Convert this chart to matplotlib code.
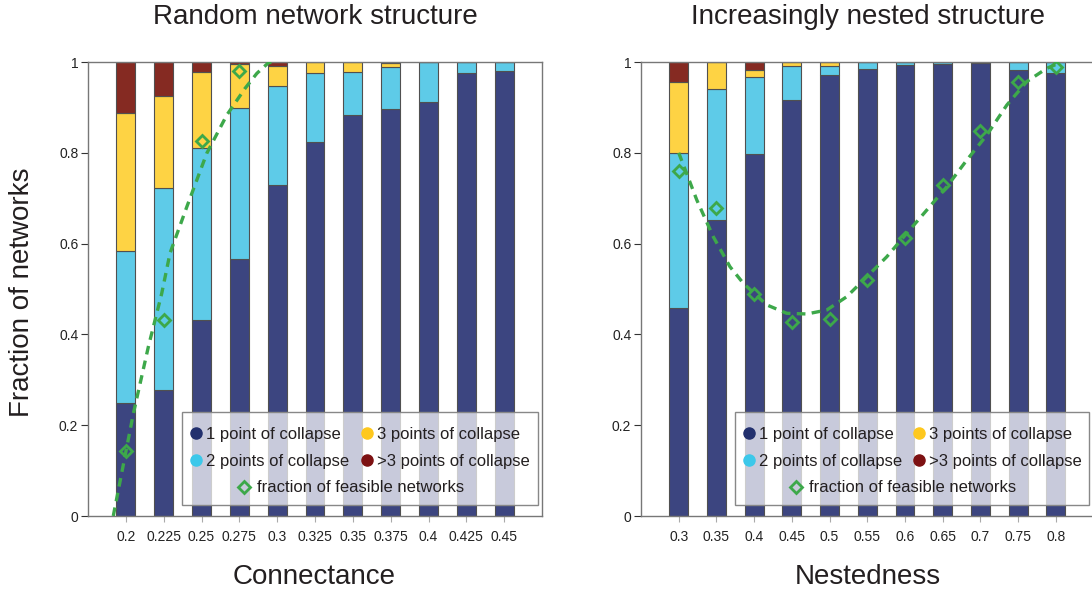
import matplotlib.pyplot as plt
from matplotlib.lines import Line2D
from matplotlib.patches import Rectangle

plt.rcParams['font.family'] = ['Liberation Sans', 'DejaVu Sans']

c_one = '#3c4580'
c_two = '#5ecbe8'
c_three = '#fed344'
c_more = '#852a22'
c_green = '#3da84a'

# random network structure
connectance = [0.2, 0.225, 0.25, 0.275, 0.3, 0.325, 0.35, 0.375, 0.4, 0.425, 0.45]
rand_one = [0.249, 0.278, 0.432, 0.567, 0.729, 0.823, 0.883, 0.896, 0.911, 0.975, 0.980]
rand_two = [0.334, 0.444, 0.378, 0.331, 0.218, 0.152, 0.096, 0.092, 0.089, 0.025, 0.020]
rand_three = [0.305, 0.203, 0.169, 0.097, 0.044, 0.025, 0.021, 0.010, 0.0, 0.0, 0.0]
rand_more = [0.112, 0.075, 0.021, 0.005, 0.009, 0.0, 0.0, 0.002, 0.0, 0.0, 0.0]
rand_feas_x = [0.2, 0.225, 0.25, 0.275]
rand_feas = [0.143, 0.432, 0.825, 0.980]
rand_fit_x = [0.1917, 0.205, 0.2149, 0.2237, 0.2292, 0.2403, 0.2535, 0.2667,
              0.2788, 0.2866, 0.2943, 0.300]
rand_fit_y = [0.0, 0.226, 0.373, 0.490, 0.579, 0.681, 0.799, 0.883,
              0.942, 0.975, 0.9985, 1.0]
rand_ticks = ['0.2', '0.225', '0.25', '0.275', '0.3', '0.325', '0.35',
              '0.375', '0.4', '0.425', '0.45']

# increasingly nested structure
nestedness = [0.3, 0.35, 0.4, 0.45, 0.5, 0.55, 0.6, 0.65, 0.7, 0.75, 0.8]
nest_one = [0.458, 0.652, 0.797, 0.916, 0.972, 0.985, 0.993, 0.995, 0.997, 0.983, 0.976]
nest_two = [0.341, 0.288, 0.169, 0.075, 0.019, 0.015, 0.007, 0.004, 0.003, 0.016, 0.024]
nest_three = [0.158, 0.060, 0.017, 0.009, 0.009, 0.0, 0.0, 0.0, 0.0, 0.0, 0.0]
nest_more = [0.043, 0.0, 0.017, 0.0, 0.0, 0.0, 0.0, 0.001, 0.0, 0.001, 0.0]
nest_feas = [0.761, 0.679, 0.490, 0.427, 0.435, 0.520, 0.612, 0.728, 0.848, 0.955, 0.988]
nest_fit_x = [0.300, 0.324, 0.3459, 0.368, 0.3857, 0.4167, 0.4432, 0.4698, 0.4963,
              0.5228, 0.5494, 0.5759, 0.6024, 0.629, 0.6555, 0.682, 0.7085, 0.735,
              0.7616, 0.788, 0.8057]
nest_fit_y = [0.800, 0.696, 0.615, 0.549, 0.5125, 0.465, 0.4465, 0.445, 0.4537,
              0.483, 0.527, 0.571, 0.6227, 0.674, 0.7253, 0.784, 0.839, 0.905,
              0.957, 0.986, 0.9985]
nest_ticks = ['0.3', '0.35', '0.4', '0.45', '0.5', '0.55', '0.6', '0.65',
              '0.7', '0.75', '0.8']


def draw_panel(ax, x, parts, feas_x, feas, fit_x, fit_y, width, xlim, ticks):
    bottom = [0.0] * len(x)
    for vals, col in zip(parts, [c_one, c_two, c_three, c_more]):
        ax.bar(x, vals, width, bottom=bottom, color=col, edgecolor='#505050',
               linewidth=0.8, zorder=2)
        bottom = [b + v for b, v in zip(bottom, vals)]
    ax.plot(fit_x, fit_y, color=c_green, lw=2.4, dashes=(2.6, 1.9), zorder=3)
    ax.plot(feas_x, feas, 'D', ms=6.5, mfc='none', mec=c_green, mew=2, zorder=4)

    ax.set_xlim(*xlim)
    ax.set_ylim(0, 1)
    ax.set_xticks(x)
    ax.set_xticklabels(ticks)
    ax.set_yticks([0, 0.2, 0.4, 0.6, 0.8, 1])
    ax.set_yticklabels(['0', '0.2', '0.4', '0.6', '0.8', '1'])
    ax.tick_params(axis='x', length=4, color='#aaaaaa', labelsize=10,
                   labelcolor='#222222', pad=6)
    ax.tick_params(axis='y', length=5, color='#333333', labelsize=10,
                   labelcolor='#222222', pad=2)
    for s in ['left', 'bottom', 'top', 'right']:
        ax.spines[s].set_color('#777777')
        ax.spines[s].set_linewidth(1.0)

    ax.add_patch(Rectangle((0.208, 0.024), 0.783, 0.205, transform=ax.transAxes,
                           facecolor='white', alpha=0.72, edgecolor='none', zorder=5))
    ax.add_patch(Rectangle((0.208, 0.024), 0.783, 0.205, transform=ax.transAxes,
                           facecolor='none', edgecolor='#888888', lw=1.0, zorder=6))
    handles = [Line2D([], [], ls='none', marker='o', ms=8, color=c)
               for c in ['#22306e', '#3cc8ea', '#fec81e', '#7d1112']]
    labels = ['1 point of collapse', '2 points of collapse',
              '3 points of collapse', '>3 points of collapse']
    leg = ax.legend(handles, labels, ncol=2, loc='upper left',
                    bbox_to_anchor=(0.2235, 0.197), frameon=False, fontsize=12,
                    handlelength=0.8, handletextpad=0.2, columnspacing=0.64,
                    labelspacing=0.72, borderpad=0, borderaxespad=0)
    for t in leg.get_texts():
        t.set_color('#231f20')
    leg.set_zorder(7)
    ax.add_artist(leg)
    h2 = [Line2D([], [], ls='none', marker='D', ms=6.5, mfc='none', mec=c_green, mew=2)]
    leg2 = ax.legend(h2, ['fraction of feasible networks'], loc='center',
                     bbox_to_anchor=(0.578, 0.0617), frameon=False, fontsize=12,
                     handlelength=0.8, handletextpad=0.4, borderpad=0, borderaxespad=0)
    leg2.get_texts()[0].set_color('#231f20')
    leg2.set_zorder(7)


fig = plt.figure(figsize=(10.92, 5.96), dpi=100)
ax1 = fig.add_axes([88 / 1092, 80 / 596, 454 / 1092, 454 / 596])
ax2 = fig.add_axes([641 / 1092, 80 / 596, 452.5 / 1092, 454 / 596])

draw_panel(ax1, connectance, [rand_one, rand_two, rand_three, rand_more],
           rand_feas_x, rand_feas, rand_fit_x, rand_fit_y, 0.0125,
           (0.175, 0.475), rand_ticks)
draw_panel(ax2, nestedness, [nest_one, nest_two, nest_three, nest_more],
           nestedness, nest_feas, nest_fit_x, nest_fit_y, 0.025,
           (0.25, 0.85), nest_ticks)

fig.text(315 / 1092, 1 - 17 / 596, 'Random network structure', fontsize=20,
         ha='center', va='center', color='#231f20')
fig.text(868 / 1092, 1 - 17 / 596, 'Increasingly nested structure', fontsize=20,
         ha='center', va='center', color='#231f20')
fig.text(314 / 1092, 1 - 577 / 596, 'Connectance', fontsize=20,
         ha='center', va='center', color='#231f20')
fig.text(868 / 1092, 1 - 577 / 596, 'Nestedness', fontsize=20,
         ha='center', va='center', color='#231f20')
fig.text(22 / 1092, 1 - 292 / 596, 'Fraction of networks', fontsize=20,
         rotation=90, ha='center', va='center', color='#231f20')

fig.savefig('out.png', dpi=100)
